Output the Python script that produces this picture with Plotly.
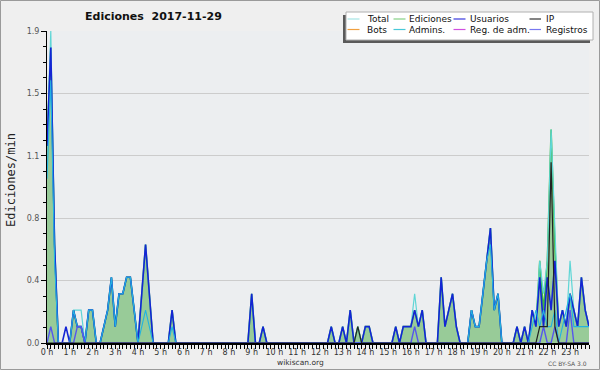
import plotly.graph_objects as go

# ---- data: 10-minute buckets, values in edits per minute (one row per hour) ----
EDICIONES = [
    1.2, 1.8, 0.6, 0, 0, 0,        # 0 h
    0, 0.2, 0.1, 0.1, 0, 0.2,      # 1 h
    0.2, 0, 0, 0.1, 0.2, 0.4,      # 2 h
    0.1, 0.3, 0.3, 0.4, 0.4, 0.2,  # 3 h
    0, 0.3, 0.6, 0.3, 0, 0,        # 4 h
    0, 0, 0, 0.2, 0, 0,            # 5 h
    0, 0, 0, 0, 0, 0,              # 6 h
    0, 0, 0, 0, 0, 0,              # 7 h
    0, 0, 0, 0, 0, 0,              # 8 h
    0.3, 0, 0, 0.1, 0, 0,          # 9 h
    0, 0, 0, 0, 0, 0,              # 10 h
    0, 0, 0, 0, 0, 0,              # 11 h
    0, 0, 0, 0.1, 0, 0,            # 12 h
    0.1, 0, 0.2, 0, 0.1, 0,        # 13 h
    0.1, 0.1, 0, 0, 0, 0,          # 14 h
    0, 0, 0.1, 0, 0.1, 0.1,        # 15 h
    0.1, 0.2, 0.1, 0.2, 0, 0,      # 16 h
    0, 0, 0.4, 0.1, 0.2, 0.3,      # 17 h
    0.1, 0, 0, 0, 0.2, 0.1,        # 18 h
    0.1, 0.3, 0.5, 0.7, 0.2, 0.3,  # 19 h
    0, 0, 0, 0, 0.1, 0,            # 20 h
    0.1, 0, 0.2, 0.1, 0.5, 0.2,    # 21 h
    0.5, 1.3, 0.6, 0.1, 0.2, 0.1,  # 22 h
    0.3, 0.2, 0.1, 0.4, 0.2, 0.1,  # 23 h
]

TOTAL = [
    1.2, 1.9, 0.6, 0, 0, 0,
    0, 0.2, 0.2, 0.2, 0, 0.2,
    0.2, 0, 0, 0.1, 0.2, 0.4,
    0.1, 0.3, 0.3, 0.4, 0.4, 0.2,
    0, 0.3, 0.6, 0.3, 0, 0,
    0, 0, 0, 0.2, 0, 0,
    0, 0, 0, 0, 0, 0,
    0, 0, 0, 0, 0, 0,
    0, 0, 0, 0, 0, 0,
    0.3, 0, 0, 0.1, 0, 0,
    0, 0, 0, 0, 0, 0,
    0, 0, 0, 0, 0, 0,
    0, 0, 0, 0.1, 0, 0,
    0.1, 0, 0.2, 0, 0.1, 0,
    0.1, 0.1, 0, 0, 0, 0,
    0, 0, 0.1, 0, 0.1, 0.1,
    0.1, 0.3, 0.1, 0.2, 0, 0,
    0, 0, 0.4, 0.1, 0.2, 0.3,
    0.1, 0, 0, 0, 0.2, 0.1,
    0.1, 0.3, 0.5, 0.7, 0.2, 0.3,
    0, 0, 0, 0, 0.1, 0,
    0.1, 0, 0.2, 0.1, 0.5, 0.3,
    0.5, 1.3, 0.7, 0.1, 0.2, 0.1,
    0.5, 0.2, 0.1, 0.4, 0.2, 0.1,
]

USUARIOS = [
    1.2, 1.8, 0.6, 0, 0, 0.1,
    0, 0.2, 0.1, 0.1, 0, 0.2,
    0.2, 0, 0, 0.1, 0.2, 0.4,
    0.1, 0.3, 0.3, 0.4, 0.4, 0.2,
    0, 0.3, 0.6, 0.3, 0, 0,
    0, 0, 0, 0.2, 0, 0,
    0, 0, 0, 0, 0, 0,
    0, 0, 0, 0, 0, 0,
    0, 0, 0, 0, 0, 0,
    0.3, 0, 0, 0.1, 0, 0,
    0, 0, 0, 0, 0, 0,
    0, 0, 0, 0, 0, 0,
    0, 0, 0, 0.1, 0, 0,
    0.1, 0, 0.2, 0, 0, 0,
    0.1, 0.1, 0, 0, 0, 0,
    0, 0, 0.1, 0, 0.1, 0.1,
    0.1, 0.2, 0.1, 0.2, 0, 0,
    0, 0, 0.4, 0.1, 0.2, 0.3,
    0.1, 0, 0, 0, 0.2, 0.1,
    0.1, 0.3, 0.5, 0.7, 0.2, 0.3,
    0, 0, 0, 0, 0.1, 0,
    0.1, 0, 0.2, 0.1, 0.4, 0.1,
    0.4, 0.2, 0.5, 0.1, 0.2, 0.1,
    0.3, 0.2, 0.1, 0.4, 0.2, 0.1,
]

IP = [
    0, 0, 0, 0, 0, 0,
    0, 0, 0, 0, 0, 0,
    0, 0, 0, 0, 0, 0,
    0, 0, 0, 0, 0, 0,
    0, 0, 0, 0, 0, 0,
    0, 0, 0, 0, 0, 0,
    0, 0, 0, 0, 0, 0,
    0, 0, 0, 0, 0, 0,
    0, 0, 0, 0, 0, 0,
    0, 0, 0, 0, 0, 0,
    0, 0, 0, 0, 0, 0,
    0, 0, 0, 0, 0, 0,
    0, 0, 0, 0, 0, 0,
    0, 0, 0, 0, 0.1, 0,
    0, 0, 0, 0, 0, 0,
    0, 0, 0, 0, 0, 0,
    0, 0, 0, 0, 0, 0,
    0, 0, 0, 0, 0, 0,
    0, 0, 0, 0, 0, 0,
    0, 0, 0, 0, 0, 0,
    0, 0, 0, 0, 0, 0,
    0, 0, 0, 0, 0.1, 0.1,
    0.1, 1.1, 0.1, 0, 0, 0,
    0, 0, 0, 0, 0, 0,
]

ADMINS = [
    1.0, 1.6, 0.5, 0, 0, 0,
    0, 0.2, 0.1, 0.1, 0, 0.2,
    0.2, 0, 0, 0.1, 0.2, 0.4,
    0.1, 0.3, 0.3, 0.4, 0.4, 0.2,
    0, 0.1, 0.2, 0.1, 0, 0,
    0, 0, 0, 0.1, 0, 0,
    0, 0, 0, 0, 0, 0,
    0, 0, 0, 0, 0, 0,
    0, 0, 0, 0, 0, 0,
    0, 0, 0, 0, 0, 0,
    0, 0, 0, 0, 0, 0,
    0, 0, 0, 0, 0, 0,
    0, 0, 0, 0, 0, 0,
    0, 0, 0, 0, 0, 0,
    0, 0, 0, 0, 0, 0,
    0, 0, 0, 0, 0, 0,
    0, 0, 0, 0, 0, 0,
    0, 0, 0, 0, 0, 0,
    0, 0, 0, 0, 0.2, 0.1,
    0.1, 0.3, 0.5, 0.6, 0.2, 0.3,
    0, 0, 0, 0, 0, 0,
    0, 0, 0.1, 0.2, 0.1, 0.2,
    0.1, 0.1, 0.2, 0, 0.1, 0.2,
    0.3, 0.1, 0.1, 0.1, 0.1, 0.1,
]

REGISTROS = [
    0, 0.1, 0, 0, 0, 0,
    0, 0, 0.1, 0.1, 0, 0,
    0, 0, 0, 0, 0, 0,
    0, 0, 0, 0, 0, 0,
    0, 0, 0, 0, 0, 0,
    0, 0, 0, 0, 0, 0,
    0, 0, 0, 0, 0, 0,
    0, 0, 0, 0, 0, 0,
    0, 0, 0, 0, 0, 0,
    0, 0, 0, 0, 0, 0,
    0, 0, 0, 0, 0, 0,
    0, 0, 0, 0, 0, 0,
    0, 0, 0, 0, 0, 0,
    0, 0, 0, 0, 0, 0,
    0, 0, 0, 0, 0, 0,
    0, 0, 0, 0, 0, 0,
    0, 0.1, 0, 0, 0, 0,
    0, 0, 0, 0, 0, 0,
    0, 0, 0, 0, 0, 0,
    0, 0, 0, 0, 0, 0,
    0, 0, 0, 0, 0, 0,
    0, 0, 0, 0, 0, 0.1,
    0, 0, 0.1, 0, 0, 0,
    0.2, 0, 0, 0, 0, 0,
]

MINUTES = [10 * i for i in range(len(EDICIONES))]  # start of each 10-minute bucket

HOUR_TICKS = [60 * h for h in range(24)]
HOUR_LABELS = ["0 h", "1 h", "2 h", "3 h", "4 h", "5 h", "6 h", "7 h", "8 h", "9 h",
               "10 h", "11 h", "12 h", "13 h", "14 h", "15 h", "16 h", "17 h",
               "18 h", "19 h", "20 h", "21 h", "22 h", "23 h"]
Y_TICKS = [0, 0.38, 0.76, 1.14, 1.52, 1.9]
Y_LABELS = ["0.0", "0.4", "0.8", "1.1", "1.5", "1.9"]

LEGEND = [  # label, colour, column, row
    ("Total", "#a6e4e4", 0, 0), ("Ediciones", "#86d086", 1, 0),
    ("Usuarios", "#3a3ae0", 2, 0), ("IP", "#333333", 3, 0),
    ("Bots", "#f0a040", 0, 1), ("Admins.", "#48c8d8", 1, 1),
    ("Reg. de adm.", "#d050e0", 2, 1), ("Registros", "#7878f0", 3, 1),
]

W, H = 600, 370
ML, MR, MT, MB = 47, 11, 31, 27
PW, PH = W - ML - MR, H - MT - MB


def px(x):
    return (x - ML) / PW


def py(y):
    return (H - MB - y) / PH


fig = go.Figure()
fig.add_trace(go.Scatter(x=MINUTES, y=EDICIONES, mode="lines", fill="tozeroy",
                         fillcolor="#98cb98", line=dict(color="#3cb83c", width=1.5),
                         name="Ediciones", showlegend=False))
fig.add_trace(go.Scatter(x=MINUTES, y=TOTAL, mode="lines",
                         line=dict(color="#5fd6d6", width=1.2),
                         name="Total", showlegend=False))
fig.add_trace(go.Scatter(x=MINUTES, y=USUARIOS, mode="lines",
                         line=dict(color="#1424d4", width=1.6),
                         name="Usuarios", showlegend=False))
fig.add_trace(go.Scatter(x=MINUTES, y=ADMINS, mode="lines",
                         line=dict(color="#22b4e0", width=1.1),
                         name="Admins.", showlegend=False))
fig.add_trace(go.Scatter(x=MINUTES, y=REGISTROS, mode="lines",
                         line=dict(color="#5656ee", width=1.4),
                         name="Registros", showlegend=False))
fig.add_trace(go.Scatter(x=MINUTES, y=IP, mode="lines",
                         line=dict(color="#222222", width=1.2),
                         name="IP", showlegend=False))

shapes = []
annotations = []

# outer frame
shapes.append(dict(type="rect", xref="paper", yref="paper",
                   x0=px(0.5), x1=px(599.5), y0=py(0.5), y1=py(369.5),
                   line=dict(color="#9a9a9a", width=1), fillcolor="rgba(0,0,0,0)",
                   layer="above"))

# legend box with shadow
shapes.append(dict(type="rect", xref="paper", yref="paper",
                   x0=px(343), x1=px(590), y0=py(15), y1=py(43),
                   line=dict(width=0), fillcolor="#5a5a5a", layer="above"))
shapes.append(dict(type="rect", xref="paper", yref="paper",
                   x0=px(346), x1=px(593), y0=py(12), y1=py(40),
                   line=dict(color="#b0b0b0", width=1), fillcolor="#ffffff", layer="above"))

col_sample = [(347.5, 359.5), (393.5, 405.5), (453.5, 465.5), (529.5, 541)]
col_text = [365, 406.5, 467.5, 543.5]
row_y = [19, 29.5]
for label, color, c, r in LEGEND:
    x0, x1 = col_sample[c]
    shapes.append(dict(type="line", xref="paper", yref="paper",
                       x0=px(x0), x1=px(x1), y0=py(row_y[r]), y1=py(row_y[r]),
                       line=dict(color=color, width=1.2), layer="above"))
    annotations.append(dict(text=label, xref="paper", yref="paper",
                            x=px(col_text[c]), y=py(row_y[r]),
                            xanchor="left", yanchor="middle", showarrow=False,
                            font=dict(family="DejaVu Sans", size=9, color="#111111")))

# title
annotations.append(dict(text="<b>Ediciones  2017-11-29</b>", xref="paper", yref="paper",
                        x=px(153.5), y=py(16.5), xanchor="center", yanchor="middle",
                        showarrow=False,
                        font=dict(family="DejaVu Sans", size=11, color="#111111")))

# y-axis title
annotations.append(dict(text="Ediciones/min", xref="paper", yref="paper",
                        x=px(11), y=py(180), xanchor="center", yanchor="middle",
                        textangle=-90, showarrow=False,
                        font=dict(family="DejaVu Sans Mono", size=12, color="#222222")))

# footer texts
annotations.append(dict(text="wikiscan.org", xref="paper", yref="paper",
                        x=px(300), y=py(362.5), xanchor="center", yanchor="middle",
                        showarrow=False,
                        font=dict(family="DejaVu Sans", size=7.5, color="#333333")))
annotations.append(dict(text="CC BY-SA 3.0", xref="paper", yref="paper",
                        x=px(589), y=py(363), xanchor="right", yanchor="middle",
                        showarrow=False,
                        font=dict(family="DejaVu Sans", size=6, color="#555555")))

fig.update_layout(
    width=W, height=H,
    margin=dict(l=ML, r=MR, t=MT, b=MB, pad=0),
    paper_bgcolor="#efefef",
    plot_bgcolor="#eceef0",
    showlegend=False,
    shapes=shapes,
    annotations=annotations,
    xaxis=dict(range=[0, 1430], tickvals=HOUR_TICKS, ticktext=HOUR_LABELS,
               showgrid=False, zeroline=False, showline=True, linecolor="#000000",
               linewidth=2, ticks="outside", ticklen=4, tickwidth=1, tickcolor="#000000",
               ticklabelstandoff=-4,
               tickfont=dict(family="DejaVu Sans", size=8, color="#333333"),
               minor=dict(dtick=10, tick0=0, ticks="outside", ticklen=4,
                          tickwidth=1, tickcolor="#000000", showgrid=False),
               automargin=False, fixedrange=True),
    yaxis=dict(range=[0, 1.9], tickvals=Y_TICKS, ticktext=Y_LABELS,
               showgrid=True, gridcolor="#cccccc", gridwidth=1, zeroline=False,
               showline=True, linecolor="#000000", linewidth=1,
               ticks="outside", ticklen=5, tickwidth=1, tickcolor="#000000",
               tickfont=dict(family="DejaVu Sans", size=8, color="#555555"),
               minor=dict(dtick=0.095, tick0=0, ticks="outside", ticklen=3,
                          tickwidth=1, tickcolor="#000000", showgrid=False),
               automargin=False, fixedrange=True),
)

fig.write_html("out.html")
